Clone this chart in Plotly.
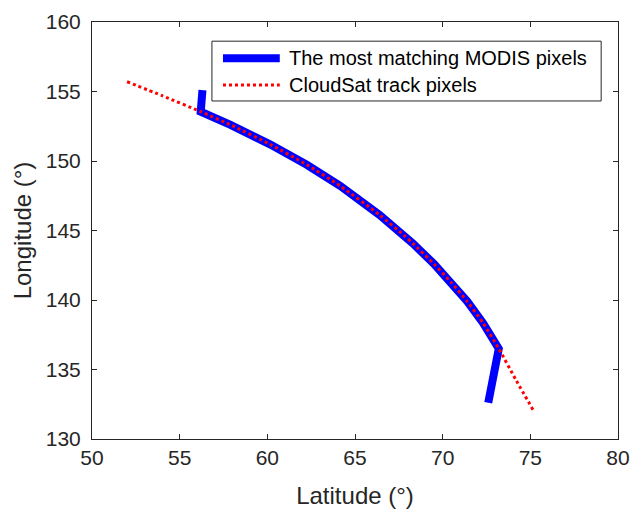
import plotly.graph_objects as go

# CloudSat ground track (latitude, longitude in degrees)
track_lat = [52.0, 54.0, 56.2, 57.9, 60.15, 62.25, 64.15, 66.4, 67.8, 68.3, 69.5, 70.5,
             71.4, 72.3, 73.2, 74.2, 75.2]
track_lon = [155.7, 154.7, 153.55, 152.6, 151.2, 149.73, 148.21, 146.12, 144.65, 144.07, 142.6, 141.25,
             139.9, 138.35, 136.5, 134.2, 132.0]

# Best-matching MODIS pixels along the track
modis_lat = [56.3, 56.2, 57.9, 60.15, 62.25, 64.15, 66.4, 67.8, 68.3, 69.5, 70.5,
             71.4, 72.3, 73.2, 72.6]
modis_lon = [155.1, 153.55, 152.6, 151.2, 149.73, 148.21, 146.12, 144.65, 144.07, 142.6, 141.25,
             139.9, 138.35, 136.5, 132.6]

series_names = ["The most matching MODIS pixels", "CloudSat track pixels"]

FONT = "Liberation Sans, Arial, Helvetica, sans-serif"
INK = "#262626"

fig = go.Figure()
fig.add_trace(go.Scatter(x=modis_lat, y=modis_lon, mode="lines",
                         line=dict(color="#0000ff", width=8),
                         name=series_names[0], showlegend=False))
fig.add_trace(go.Scatter(x=track_lat, y=track_lon, mode="lines",
                         line=dict(color="#ff0000", width=3, dash="dot",
                                   shape="spline", smoothing=0.6),
                         name=series_names[1], showlegend=False))

axis_common = dict(
    showgrid=False, zeroline=False, showline=True, linecolor=INK, linewidth=1,
    mirror="ticks", ticks="inside", ticklen=5, tickwidth=1, tickcolor=INK,
    tickfont=dict(family=FONT, size=21, color=INK),
    title_font=dict(family=FONT, size=24, color=INK),
    automargin=False,
)
fig.update_xaxes(range=[50, 80], dtick=5, title_text="Latitude (°)",
                 title_standoff=18, **axis_common)
fig.update_yaxes(range=[130, 160], dtick=5, title_text="Longitude (°)",
                 title_standoff=7, ticklabelstandoff=6, **axis_common)

# Legend box drawn in paper coordinates
L, R, T, B = 0.228, 0.968, 0.954, 0.8106
fig.add_shape(type="rect", xref="paper", yref="paper", x0=L, x1=R, y0=B, y1=T,
              line=dict(color=INK, width=1), fillcolor="white", layer="above")
rows = [(0.913, dict(color="#0000ff", width=8)),
        (0.849, dict(color="#ff0000", width=3, dash="dot"))]
for (yy, ln), name in zip(rows, series_names):
    fig.add_shape(type="line", xref="paper", yref="paper", x0=0.249, x1=0.357,
                  y0=yy, y1=yy, line=ln, layer="above")
    fig.add_annotation(xref="paper", yref="paper", x=0.371, y=yy, text=name,
                       showarrow=False, xanchor="left", yanchor="middle",
                       font=dict(family=FONT, size=20, color="black"))

fig.update_layout(
    width=632, height=509,
    margin=dict(l=92, r=14, t=22, b=70),
    paper_bgcolor="white", plot_bgcolor="white",
)

fig.write_html("out.html")
